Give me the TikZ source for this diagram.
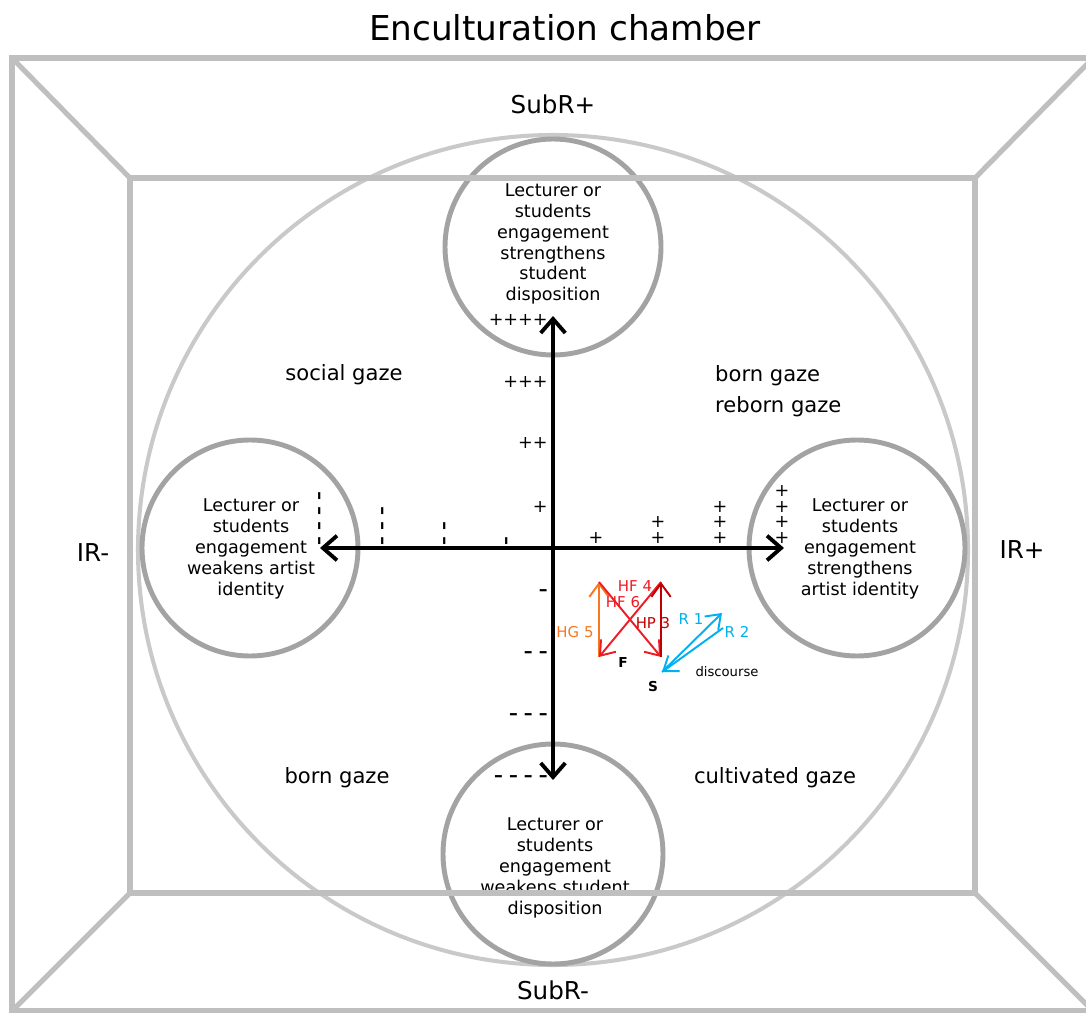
\documentclass[tikz,border=0pt]{standalone}
\usepackage{fontspec}
\setmainfont{DejaVu Sans}
\usetikzlibrary{arrows.meta}

\definecolor{hgorange}{RGB}{247,120,30}
\definecolor{hfred}{RGB}{238,28,36}
\definecolor{hpred}{RGB}{192,0,0}
\definecolor{rblue}{RGB}{0,176,240}

\tikzset{
	chamber/.style = {line width = 2.9pt, black!25},
	ring/.style = {line width = 2.3pt, black!21},
	engage/.style = {line width = 2.8pt, black!36},
	axis/.style = {line width = 2.2pt, {Straight Barb[length = 8pt, width = 14pt]}-{Straight Barb[length = 8pt, width = 14pt]}},
	gazearrow/.style = {line width = 1.1pt, -{Straight Barb[length = 7.5pt, width = 11pt]}},
	circletext/.style = {align = center, font = \fontsize{10}{11.9}\selectfont},
	gazetext/.style = {font = \fontsize{12}{17.6}\selectfont},
	poletext/.style = {font = \fontsize{14}{16}\selectfont},
	scalelabel/.style = {inner sep = 0pt, font = \fontsize{10}{12}\selectfont},
	minuslabel/.style = {scalelabel, font = \fontsize{10}{12}\selectfont\bfseries},
	gazelabel/.style = {inner sep = 0pt, font = \fontsize{8.5}{10}\selectfont},
	pointlabel/.style = {inner sep = 0pt, font = \fontsize{7.8}{9}\selectfont\bfseries}
}

\begin{document}
\begin{tikzpicture}[x = 0.02cm, y = -0.02cm]
	\useasboundingbox (0, 0) rectangle (1086, 1013);
	
	\draw[ring] (553, 550) circle (415);
	\draw[engage] (553, 247) circle (108);
	\draw[engage] (553, 854) circle (110);
	\draw[engage] (250, 548) circle (108);
	\draw[engage] (857, 548) circle (108);
	
	\node[circletext] (strStudent) at (553, 244) {Lecturer or\\students\\engagement\\strengthens\\student\\disposition};
	\node[circletext] (weakArtist) at (251, 549) {Lecturer or\\students\\engagement\\weakens artist\\identity};
	\node[circletext] (strArtist) at (860, 549) {Lecturer or\\students\\engagement\\strengthens\\artist identity};
	\node[circletext] (weakStudent) at (555, 868) {Lecturer or\\students\\engagement\\weakens student\\disposition};
	
	\coordinate (westEnd) at (320, 548);
	\coordinate (eastEnd) at (784, 548);
	\coordinate (northEnd) at (553, 316);
	\coordinate (southEnd) at (553, 780);
	\draw[axis] (westEnd) -- (eastEnd);
	\draw[axis] (southEnd) -- (northEnd);
	
	\foreach \y/\t [count = \n] in {320/++++, 382/+++, 443/++, 507/+}
	\node[scalelabel, anchor = east] (v\n) at (548, \y) {\t};
	\foreach \y/\t [count = \n] in {593/\textendash, 655/{\textendash\ \textendash}, 717/{\textendash\ \textendash\ \textendash}, 779/{\textendash\ \textendash\ \textendash\ \textendash}}
	\node[minuslabel, anchor = east] (w\n) at (548, \y) {\t};
	\foreach \x [count = \n] in {509, 447, 385, 322}
	\foreach \k in {1, ..., \n}
	\node[minuslabel, rotate = 90] (m\n-\k) at (\x, {541 - 15*(\k - 1)}) {\textendash};
	\foreach \x [count = \n] in {596, 658, 720, 782}
	\foreach \k in {1, ..., \n}
	\node[scalelabel] (p\n-\k) at (\x, {538 - 15.6*(\k - 1)}) {+};
	
	\coordinate (F) at (599, 657);
	\coordinate (S) at (661, 657);
	\coordinate (Ftop) at (599, 582);
	\coordinate (Stop) at (661, 582);
	\coordinate (Sdisc) at (662, 672);
	\coordinate (Rone) at (722, 613);
	\coordinate (Rtwo) at (723, 628);
	\draw[gazearrow, hgorange] (F) -- (Ftop);
	\draw[gazearrow, hfred] (Ftop) -- (S);
	\draw[gazearrow, hfred] (Stop) -- (F);
	\draw[gazearrow, hpred] (S) -- (Stop);
	\draw[gazearrow, rblue] (Sdisc) -- (Rone);
	\draw[gazearrow, rblue] (Rtwo) -- (Sdisc);
	
	\node[gazelabel, hfred] (hf4) at (635, 586) {HF 4};
	\node[gazelabel, hfred] (hf6) at (623, 602) {HF 6};
	\node[gazelabel, hpred] (hp3) at (653, 623) {HP 3};
	\node[gazelabel, hgorange] (hg5) at (575, 632) {HG 5};
	\node[gazelabel, rblue] (r1) at (691, 619) {R 1};
	\node[gazelabel, rblue] (r2) at (737, 632) {R 2};
	\node[pointlabel] (fLabel) at (623, 663) {F};
	\node[pointlabel] (sLabel) at (653, 687) {S};
	\node[inner sep = 0pt, font = \fontsize{7.5}{9}\selectfont] (discourse) at (727, 672) {discourse};
	
	\draw[chamber] (12, 58) rectangle (1093, 1011);
	\draw[chamber] (130, 178) rectangle (975, 893);
	\draw[chamber] (12, 58) -- (130, 178);
	\draw[chamber] (1093, 58) -- (975, 178);
	\draw[chamber] (12, 1011) -- (130, 893);
	\draw[chamber] (1093, 1011) -- (975, 893);
	
	\node[font = \fontsize{19.5}{23}\selectfont] (title) at (565, 28) {Enculturation chamber};
	\node[poletext] (subRplus) at (553, 104) {SubR+};
	\node[poletext] (subRminus) at (553, 990) {SubR-};
	\node[poletext] (irMinus) at (93, 553) {IR-};
	\node[poletext] (irPlus) at (1022, 550) {IR+};
	
	\node[gazetext] (socialGaze) at (344, 375) {social gaze};
	\node[gazetext, align = left, anchor = west] (rebornGaze) at (709, 391) {born gaze\\reborn gaze};
	\node[gazetext] (bornGaze) at (337, 778) {born gaze};
	\node[gazetext] (cultGaze) at (775, 778) {cultivated gaze};
\end{tikzpicture}
\end{document}
